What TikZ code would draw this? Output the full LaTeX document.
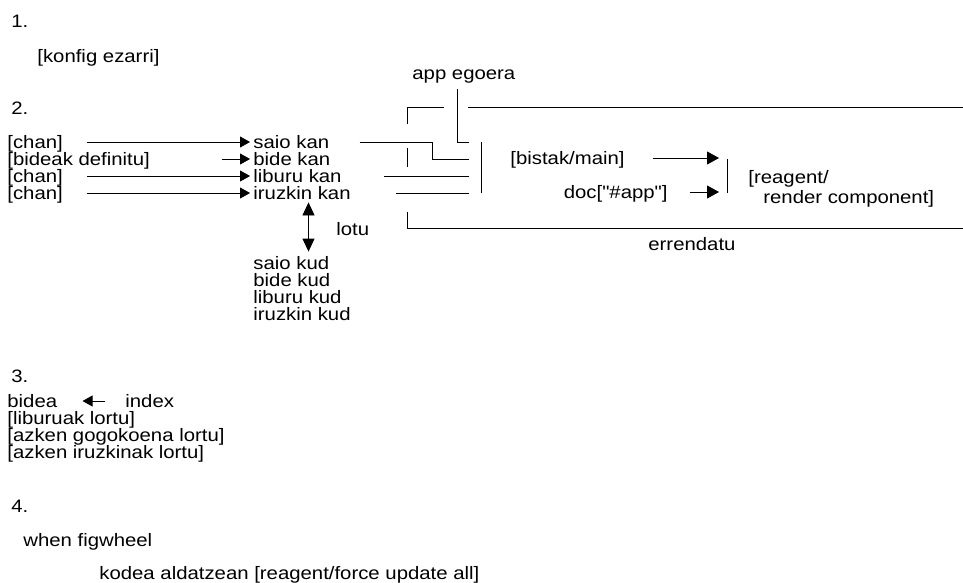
\documentclass[tikz,border=0pt]{standalone}
\usepackage{fontspec}
\setmainfont{Liberation Sans}[FakeStretch=1.13,Ligatures=TeXOff]
\usetikzlibrary{arrows.meta,calc}

\begin{document}
\begin{tikzpicture}[x=1pt,y=-1pt,line width=0.8pt,
    lbl/.style={inner sep=0pt,text height=14pt,text depth=2pt,anchor=base west,font=\fontsize{18}{20}\selectfont},
    tip/.style={-{Triangle[length=10pt,width=11pt]}},
    bigtip/.style={-{Triangle[length=12pt,width=13pt]}},
    lotutip/.style={{Triangle[length=13pt,width=12pt]}-{Triangle[length=13pt,width=12pt]}}]
  \useasboundingbox (0,0) rectangle (963,583);

  % 1.
  \node[lbl] (one) at (11,28) {1.};
  \node[lbl] (konfig) at (37,63) {[konfig ezarri]};

  % 2.
  \node[lbl] (two) at (11,114) {2.};
  \node[lbl] (chanA) at (7,148) {[chan]};
  \node[lbl] (bideak) at (7,165) {[bideak definitu]};
  \node[lbl] (chanB) at (7,182) {[chan]};
  \node[lbl] (chanC) at (7,199) {[chan]};
  \node[lbl] (saiokan) at (253,148) {saio kan};
  \node[lbl] (bidekan) at (253,165) {bide kan};
  \node[lbl] (liburukan) at (253,182) {liburu kan};
  \node[lbl] (iruzkinkan) at (253,199) {iruzkin kan};
  \draw[tip, shorten >=3pt] ([xshift=24pt]chanA.east) -- (saiokan.west);
  \draw[tip, shorten >=3pt] ([xshift=72pt]bideak.east) -- (bidekan.west);
  \draw[tip, shorten >=3pt] ([xshift=24pt]chanB.east) -- (liburukan.west);
  \draw[tip, shorten >=3pt] ([xshift=24pt]chanC.east) -- (iruzkinkan.west);

  \node[lbl] (lotu) at (336,235) {lotu};
  \node[lbl] (saiokud) at (253,269) {saio kud};
  \node[lbl] (bidekud) at (253,286) {bide kud};
  \node[lbl] (liburukud) at (253,303) {liburu kud};
  \node[lbl] (iruzkinkud) at (253,320) {iruzkin kud};
  \draw[lotutip, shorten <=1pt, shorten >=3pt] ([xshift=6.5pt]iruzkinkan.south) -- ([xshift=6.5pt]iruzkinkan.south |- saiokud.north);

  % app egoera
  \node[lbl] (appeg) at (412,80) {app egoera};
  \coordinate (boxNW) at (407,107);
  \coordinate (boxSE) at (963,228);
  \coordinate (step) at (432,150);
  \coordinate (lbar) at (481,167);
  \draw ($(boxNW)+(0,17)$) -- (boxNW) -- ++(37,0);
  \draw ($(boxNW)+(61,0)$) -- (boxNW -| boxSE);
  \draw ($(boxNW)+(0,41)$) -- ++(0,19);
  \draw ($(boxNW)+(0,105)$) |- (boxSE);
  \draw[shorten >=12pt] ([xshift=-6.5pt,yshift=-7pt]appeg.south) |- (saiokan.east -| lbar);
  \draw[shorten >=12pt] ([xshift=30pt]saiokan.east) -- (saiokan.east -| step) -- (bidekan.east -| step) -- (bidekan.east -| lbar);
  \draw[shorten >=12pt] ([xshift=42pt]liburukan.east) -- (liburukan.east -| lbar);
  \draw[shorten >=12pt] ([xshift=45pt]iruzkinkan.east) -- (iruzkinkan.east -| lbar);
  \draw (lbar |- saiokan.east) -- (lbar |- iruzkinkan.east);

  \node[lbl] (bistak) at (510,164) {[bistak/main]};
  \node[lbl, anchor=base east] (doc) at (668,198) {doc["\#app"]};
  \coordinate (rbar) at (727,176);
  \draw ($(rbar)+(0,-17)$) -- ($(rbar)+(0,17)$);
  \draw[bigtip, shorten >=8pt] ([xshift=28pt]bistak.east) -- (bistak.east -| rbar);
  \draw[bigtip, shorten >=8pt] ([xshift=22pt]doc.east) -- (doc.east -| rbar);
  \node[lbl] (reagentA) at (748,183) {[reagent/};
  \node[lbl] (reagentB) at (763,203) {render component]};
  \node[lbl] (errendatu) at (648,250) {errendatu};

  % 3.
  \node[lbl] (three) at (11,382) {3.};
  \node[lbl] (bidea) at (7,407) {bidea};
  \node[lbl] (index) at (125,407) {index};
  \node[lbl] (liburuak) at (7,424) {[liburuak lortu]};
  \node[lbl] (gogokoena) at (7,441) {[azken gogokoena lortu]};
  \node[lbl] (iruzkinak) at (7,458) {[azken iruzkinak lortu]};
  \draw[tip] ([xshift=-20pt]index.west) -- ([xshift=25pt]bidea.east);

  % 4.
  \node[lbl] (four) at (11,512) {4.};
  \node[lbl] (figwheel) at (23,546) {when figwheel};
  \node[lbl] (kodea) at (99,579) {kodea aldatzean [reagent/force update all]};
\end{tikzpicture}
\end{document}
